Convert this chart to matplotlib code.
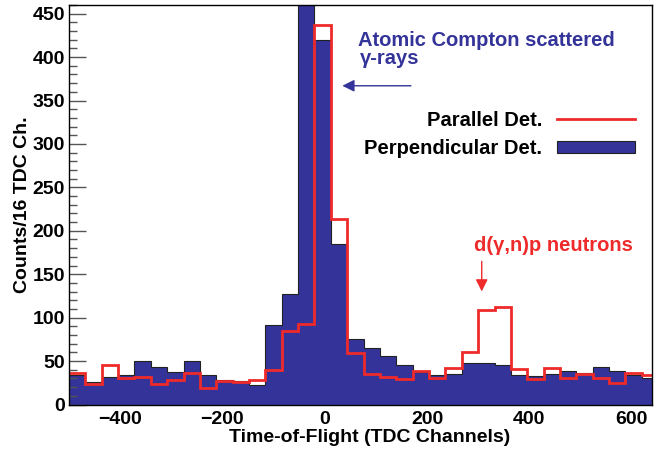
import numpy as np
import matplotlib.pyplot as plt
from matplotlib.lines import Line2D
from matplotlib.patches import Patch

plt.rcParams.update({"font.family": ["Liberation Sans", "DejaVu Sans"],
                     "font.weight": "bold", "axes.labelweight": "bold",
                     "font.size": 14})

BLUE = "#333399"
RED = "#ee2a2a"

# 32-channel bins starting at -500
edges = np.arange(-500, 653, 32)

perp = [34, 26, 32, 33.5, 50, 43, 37, 50, 33.5, 28, 27, 23,
        92, 127, 480, 420, 185, 75, 64.6, 55.7, 46, 37.7, 33.5, 34.7,
        47.3, 47.3, 45.4, 33.5, 33, 35, 38.5, 36.6, 42.7, 38.8, 34, 30.5]
para = [36, 24, 45, 31, 31.5, 24, 28, 36, 18.6, 27, 25.5, 28,
        40, 84.5, 93, 437, 213.6, 59.5, 34.7, 31.3, 29.3, 38.5, 30.8, 42.3,
        61, 109, 112, 41, 29.3, 41.6, 30.5, 35.4, 30.8, 25, 36.6, 33.5]

fig = plt.figure(figsize=(6.54, 4.53), dpi=100)
ax = fig.add_axes([0.1055, 0.107, 0.8915, 0.882])

ax.stairs(perp, edges, fill=True, facecolor=BLUE, edgecolor="#222222",
          lw=0.8, zorder=1)
ax.stairs(para, edges, baseline=None, color=RED, lw=2, zorder=2)

ax.set_xlim(-500, 640)
ax.set_ylim(0, 460)
ax.set_xticks([-400, -200, 0, 200, 400, 600])
ax.set_yticks(np.arange(0, 451, 50))
ax.set_yticks(np.arange(0, 461, 10), minor=True)
ax.tick_params(axis="y", which="major", direction="in", length=12.2,
               width=1, color="#555555", pad=3)
ax.tick_params(axis="y", which="minor", direction="in", length=6,
               width=1, color="#555555")
ax.tick_params(axis="x", length=0, pad=5)
for lab in ax.get_xticklabels() + ax.get_yticklabels():
    lab.set_fontweight("bold")
for sp in ax.spines.values():
    sp.set_linewidth(1)
    sp.set_zorder(3)

ax.set_xlabel("Time-of-Flight (TDC Channels)")
ax.set_ylabel("Counts/16 TDC Ch.")
ax.xaxis.set_label_coords(0.516, -0.062)
ax.yaxis.set_label_coords(-0.066, 0.5)

# annotations
ax.text(66, 413, "Atomic Compton scattered", color=BLUE, fontsize=14.5,
        va="baseline", ha="left")
ax.text(68, 392, "γ-rays", color=BLUE, fontsize=14.5, va="baseline", ha="left")
ax.annotate("", xy=(29, 367), xytext=(174, 367),
            arrowprops=dict(arrowstyle="-|>", color=BLUE, lw=1,
                            mutation_scale=18))

ax.text(291, 177, "d(γ,n)p neutrons", color=RED, fontsize=14.5,
        va="baseline", ha="left")
ax.annotate("", xy=(307, 127), xytext=(307, 168),
            arrowprops=dict(arrowstyle="-|>", color=RED, lw=1,
                            mutation_scale=18))

handles = [Line2D([], [], color=RED, lw=2),
           Patch(facecolor=BLUE, edgecolor="#222222", lw=0.8)]
ax.legend(handles, ["Parallel Det.", "Perpendicular Det."],
          markerfirst=False, frameon=False, fontsize=14.5,
          handlelength=3.9, handleheight=0.6, handletextpad=0.7,
          labelspacing=0.45, loc="upper right",
          bbox_to_anchor=(1.002, 0.78))

fig.savefig("out.png", dpi=100)
